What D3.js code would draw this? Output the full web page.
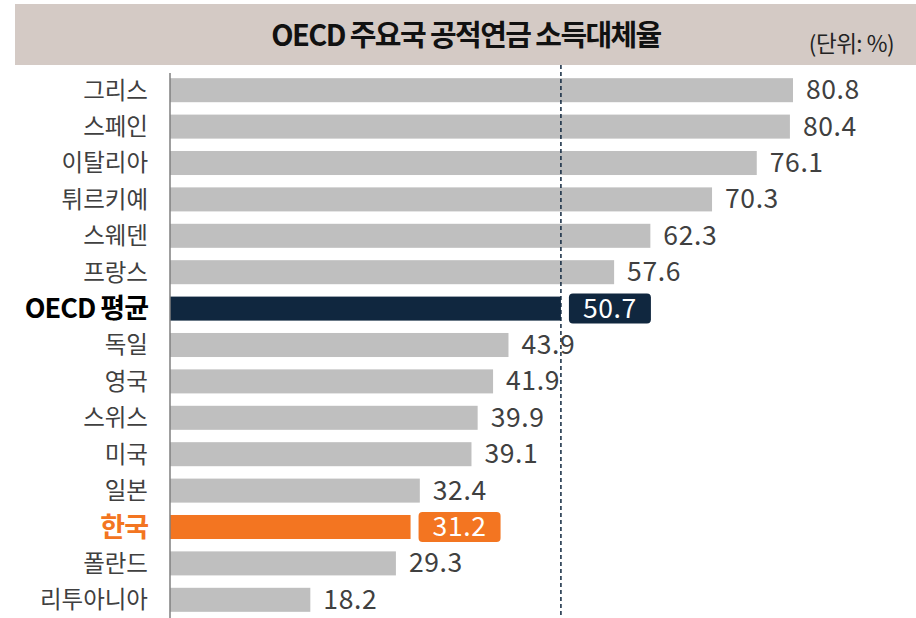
<!DOCTYPE html>
<html>
<head>
<meta charset="utf-8">
<script src="https://cdn.jsdelivr.net/npm/d3@7"></script>
<style>
  body { margin: 0; background: #fff; }
  svg { display: block; font-family: "Noto Sans CJK KR", "Noto Sans", sans-serif; }
</style>
</head>
<body>
<svg id="chart" width="916" height="618"></svg>
<script>
// data
var countries = ["그리스", "스페인", "이탈리아", "튀르키예", "스웨덴", "프랑스", "OECD 평균",
                 "독일", "영국", "스위스", "미국", "일본", "한국", "폴란드", "리투아니아"];
var rates = [80.8, 80.4, 76.1, 70.3, 62.3, 57.6, 50.7, 43.9, 41.9, 39.9, 39.1, 32.4, 31.2, 29.3, 18.2];
var oecdAvg = 50.7;

var title = "OECD 주요국 공적연금 소득대체율";
var unitLabel = "(단위: %)";

var highlight = { "OECD 평균": "#10273f", "한국": "#f37521" };
var labelColor = { "OECD 평균": "#000", "한국": "#f37521" };

var svg = d3.select("#chart");

// header band
svg.append("rect")
    .attr("x", 15).attr("y", 4)
    .attr("width", 901).attr("height", 61)
    .attr("fill", "#d4cac5");

svg.append("text")
    .attr("x", 466).attr("y", 46)
    .attr("text-anchor", "middle")
    .attr("font-size", 29)
    .attr("font-weight", "bold")
    .attr("letter-spacing", -1.6)
    .attr("fill", "#111")
    .text(title);

svg.append("text")
    .attr("x", 894).attr("y", 52)
    .attr("text-anchor", "end")
    .attr("font-size", 22.5)
    .attr("letter-spacing", -0.5)
    .attr("fill", "#222")
    .text(unitLabel);

var x = d3.scaleLinear().domain([0, 80.8]).range([170, 793]);
var y = d3.scaleBand().domain(countries).range([72, 618]).paddingInner(0.34).paddingOuter(0.17);

// bars
svg.append("g").selectAll("rect")
    .data(countries)
    .join("rect")
    .attr("x", x(0))
    .attr("y", function (d) { return y(d); })
    .attr("width", function (d, i) { return x(rates[i]) - x(0); })
    .attr("height", y.bandwidth())
    .attr("fill", function (d) { return highlight[d] || "#bfbfbf"; });

// axis line
svg.append("line")
    .attr("x1", x(0)).attr("x2", x(0))
    .attr("y1", 73).attr("y2", 618)
    .attr("stroke", "#7f7f7f").attr("stroke-width", 1.5);

// OECD average dashed line
svg.append("line")
    .attr("x1", x(oecdAvg)).attr("x2", x(oecdAvg))
    .attr("y1", 65).attr("y2", 618)
    .attr("stroke", "#10273f").attr("stroke-width", 1.5)
    .attr("stroke-dasharray", "4,3");

// category labels
svg.append("g").selectAll("text")
    .data(countries)
    .join("text")
    .attr("x", 148)
    .attr("y", function (d) { return y(d) + y.bandwidth() / 2; })
    .attr("dy", "0.36em")
    .attr("text-anchor", "end")
    .attr("font-size", function (d) { return highlight[d] ? 27 : 23.5; })
    .attr("font-weight", function (d) { return highlight[d] ? "bold" : "normal"; })
    .attr("letter-spacing", function (d) { return highlight[d] ? -1 : 0; })
    .attr("fill", function (d) { return labelColor[d] || "#404040"; })
    .text(function (d) { return d; });

// value labels
var vals = svg.append("g").selectAll("g")
    .data(countries)
    .join("g")
    .attr("transform", function (d, i) {
        return "translate(" + (x(rates[i]) + (highlight[d] ? 8 : 13)) + "," + (y(d) + y.bandwidth() / 2) + ")";
    });

vals.filter(function (d) { return highlight[d]; })
    .append("rect")
    .attr("x", 0).attr("y", -15)
    .attr("width", 82).attr("height", 30)
    .attr("rx", 4)
    .attr("fill", function (d) { return highlight[d]; });

vals.append("text")
    .attr("x", function (d) { return highlight[d] ? 41 : 0; })
    .attr("dy", "0.34em")
    .attr("text-anchor", function (d) { return highlight[d] ? "middle" : "start"; })
    .attr("font-size", 26.5)
    .attr("letter-spacing", 0.6)
    .attr("fill", function (d) { return highlight[d] ? "#fff" : "#404040"; })
    .text(function (d, i) { return rates[i].toFixed(1); });
</script>
</body>
</html>
